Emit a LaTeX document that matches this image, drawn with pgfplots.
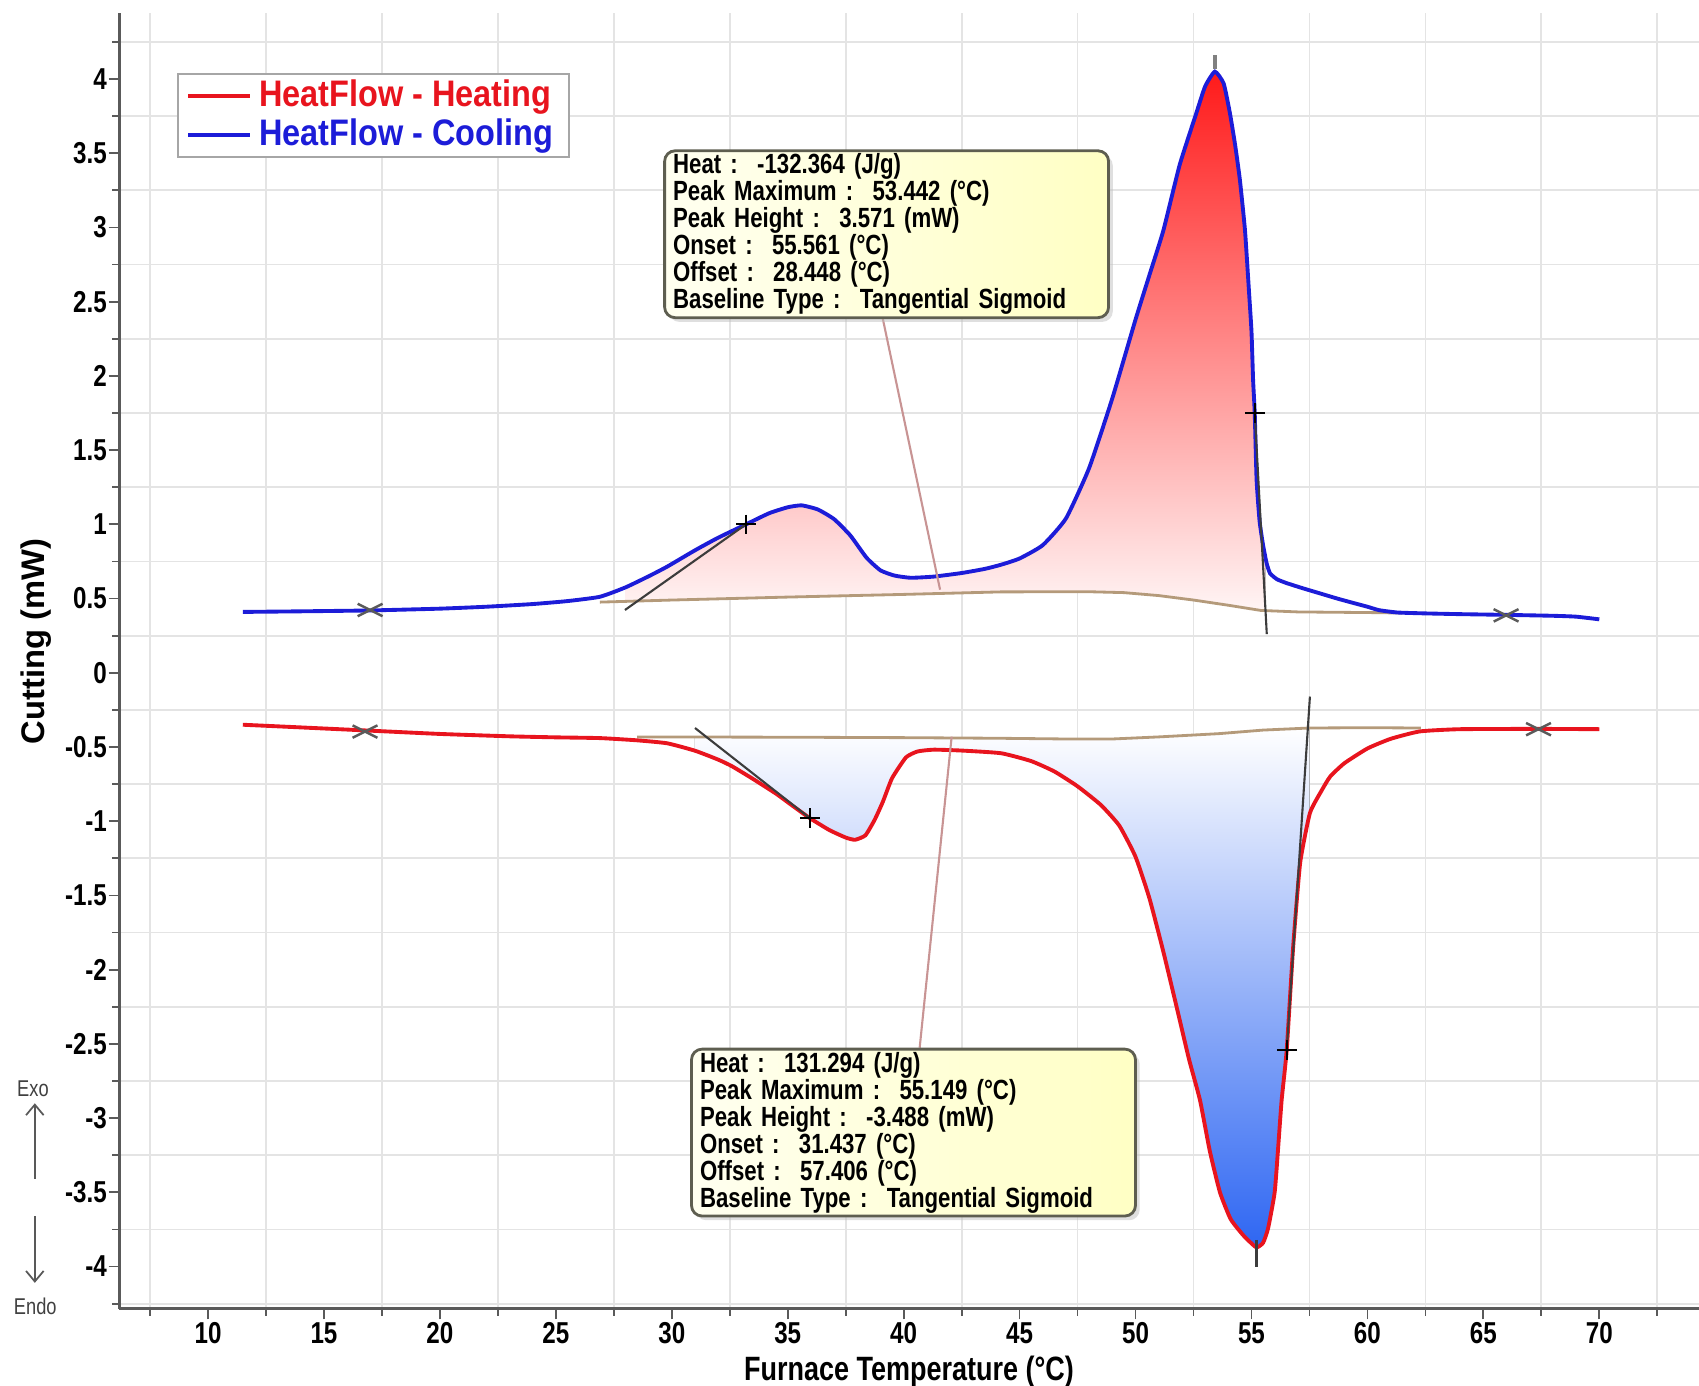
\documentclass[border=0pt]{standalone}
\usepackage{fontspec}
\setmainfont{Liberation Sans}[FakeStretch=0.8]
\newfontfamily\plainsans{Liberation Sans}
\newfontfamily\legendsans{Liberation Sans}[FakeStretch=0.88]
\usepackage{pgfplots}
\pgfplotsset{compat=1.18}
\usepgfplotslibrary{fillbetween}
\usetikzlibrary{shadows,arrows.meta}

\definecolor{heatred}{HTML}{E8141E}
\definecolor{coolblue}{HTML}{1C1CD8}
\definecolor{basetan}{HTML}{B49A7A}
\definecolor{leader}{HTML}{C89494}
\definecolor{tangray}{HTML}{3C3C3C}
\definecolor{gridc}{HTML}{E4E4E4}
\definecolor{axisc}{HTML}{5A5A5A}
\definecolor{boxedge}{HTML}{5E5E50}
\definecolor{boxl}{HTML}{FFFFF0}
\definecolor{boxr}{HTML}{FFFFC4}
\definecolor{fillred}{HTML}{FF1A1A}
\definecolor{fillblue}{HTML}{2E66F2}

\newcommand\gap{\hspace{5.5pt}}
\tikzset{annbox/.style={draw=boxedge, line width=0.8pt, rounded corners=3pt,
  left color=boxl, right color=boxr, text width=4.27cm, inner xsep=0.085cm,
  inner ysep=0.5pt, minimum height=1.669cm, align=left, anchor=north west,
  font=\bfseries\fontsize{7.9}{7.7}\selectfont,
  drop shadow={shadow xshift=1.2pt, shadow yshift=-1.2pt, fill=black!25}}}

\begin{document}
\begin{tikzpicture}
\begin{axis}[
  set layers,
  scale only axis, width=15.8cm, height=12.96cm,
  xmin=6.168, xmax=74.30, ymin=-4.285, ymax=4.445,
  clip=false,
  axis x line*=bottom, axis y line*=left,
  axis line style={axisc, line width=0.9pt},
  xtick={10,15,20,25,30,35,40,45,50,55,60,65,70},
  ytick={-4,-3.5,-3,-2.5,-2,-1.5,-1,-0.5,0,0.5,1,1.5,2,2.5,3,3.5,4},
  minor xtick={7.5,12.5,17.5,22.5,27.5,32.5,37.5,42.5,47.5,52.5,57.5,62.5,67.5,72.5},
  minor ytick={-4.25,-3.75,-3.25,-2.75,-2.25,-1.75,-1.25,-0.75,-0.25,0.25,0.75,1.25,1.75,2.25,2.75,3.25,3.75,4.25},
  xminorgrids, yminorgrids,
  minor grid style={gridc, line width=0.5pt},
  tick align=outside, major tick length=3pt, minor tick length=2pt,
  tick style={axisc, line width=0.5pt},
  /pgf/number format/assume math mode=true,
  ticklabel style={font=\bfseries\fontsize{8.6}{10}\selectfont},
  xticklabel style={yshift=2.6pt},
  yticklabel style={xshift=3pt},
  xlabel={Furnace Temperature (°C)},
  ylabel={Cutting (mW)},
  x label style={at={(axis description cs:0.5,0)}, anchor=center, yshift=-0.625cm,
    font=\bfseries\fontsize{9.6}{11}\selectfont},
  y label style={at={(axis description cs:0,0.515)}, anchor=center, yshift=0.834cm,
    font=\plainsans\bfseries\fontsize{9.3}{11}\selectfont},
  legend style={at={(axis description cs:0.0363,0.954)}, anchor=north west,
    draw=gray!70, line width=0.6pt, fill=white, inner xsep=2.5pt, inner ysep=1pt,
    font=\legendsans\bfseries\fontsize{10.5}{12}\selectfont, row sep=0.3pt,
    nodes={inner ysep=0.8pt}, cells={anchor=west}},
  legend image code/.code={\draw[#1, line width=1.1pt] (0cm,0cm) -- (0.62cm,0cm);},
]
\addlegendimage{heatred}
\addlegendentry{\textcolor{heatred}{HeatFlow - Heating}}
\addlegendimage{coolblue}
\addlegendentry{\textcolor{coolblue}{HeatFlow - Cooling}}

% baselines
\addplot[forget plot, name path=cbase, basetan, line width=0.8pt] coordinates {
(26.9,0.476) (30,0.490) (35,0.510) (40,0.528) (44.2,0.545) (48,0.546) (49.5,0.540)
(51,0.520) (52.5,0.490) (54,0.455) (55.4,0.420) (57,0.410) (60.5,0.405) (61.5,0.402)};
\addplot[forget plot, name path=hbase, basetan, line width=0.8pt] coordinates {
(28.5,-0.432) (35,-0.434) (40,-0.437) (44,-0.441) (47,-0.446) (49,-0.446) (51,-0.432)
(53.6,-0.410) (55.5,-0.386) (57.5,-0.372) (60,-0.370) (62.3,-0.372)};

% cooling curve
\addplot[forget plot, name path=cool, coolblue, line width=1.1pt, smooth, tension=0.3] coordinates {
(11.5,0.410) (14,0.414) (17,0.420) (20,0.432) (22,0.445) (24,0.463) (25.5,0.483)
(26.9,0.512) (28,0.575) (29,0.650) (29.8,0.715) (31,0.825) (32,0.910) (33.2,1.000)
(34.2,1.075) (35,1.115) (35.6,1.128) (36.3,1.100) (37,1.035) (37.7,0.925) (38.4,0.775)
(39,0.690) (39.6,0.655) (40.3,0.640) (41.3,0.648) (42.5,0.672) (43.5,0.700) (44.2,0.728)
(45,0.770) (46,0.860) (47,1.040) (48,1.380) (49,1.850) (50,2.380) (50.6,2.680)
(51.2,2.980) (51.9,3.420) (52.6,3.760) (53,3.950) (53.42,4.050) (53.8,3.970)
(54.07,3.770) (54.3,3.550) (54.5,3.320) (54.72,2.980) (54.9,2.550) (55,2.300)
(55.07,1.970) (55.14,1.750) (55.22,1.300) (55.35,1.020) (55.5,0.860) (55.65,0.740)
(55.8,0.670) (56.1,0.630) (56.5,0.605) (57.2,0.570) (57.95,0.535) (58.7,0.500)
(59.4,0.470) (60,0.445) (60.5,0.422) (61.3,0.406) (62.5,0.400) (64,0.395) (66,0.390)
(68,0.384) (69,0.378) (70,0.360)};

% heating curve
\addplot[forget plot, name path=heat, heatred, line width=1.1pt, smooth, tension=0.3] coordinates {
(11.5,-0.350) (14,-0.368) (17,-0.390) (20,-0.412) (23,-0.428) (25,-0.435) (26.9,-0.440)
(28.5,-0.455) (29.8,-0.475) (31,-0.525) (32,-0.585) (32.6,-0.630) (33.5,-0.715)
(34.5,-0.815) (35.2,-0.895) (35.96,-0.980) (36.8,-1.060) (37.5,-1.110) (37.9,-1.125)
(38.35,-1.095) (38.75,-0.990) (39.1,-0.870) (39.5,-0.710) (40.1,-0.570) (40.6,-0.530)
(41.3,-0.518) (42.5,-0.524) (44.2,-0.542) (45.5,-0.595) (46.5,-0.665) (47.5,-0.765)
(48.5,-0.890) (49.3,-1.030) (50,-1.240) (50.6,-1.520) (51.2,-1.880) (51.8,-2.270)
(52.3,-2.600) (52.78,-2.880) (53.2,-3.220) (53.64,-3.500) (54.1,-3.680) (54.65,-3.790)
(55.2,-3.870) (55.5,-3.840) (55.72,-3.740) (56,-3.500) (56.15,-3.200) (56.3,-2.880)
(56.52,-2.540) (56.8,-1.840) (57.1,-1.280) (57.52,-0.945) (58,-0.800) (58.39,-0.700)
(59,-0.610) (60,-0.510) (61,-0.445) (62.26,-0.395) (64,-0.380) (67.4,-0.378) (70,-0.380)};

% shaded peak areas
\addplot[forget plot, top color=fillred, bottom color=red!4, draw=none]
  fill between[of=cool and cbase, soft clip={domain=28:55.6}];
\addplot[forget plot, top color=white, bottom color=fillblue, draw=none]
  fill between[of=heat and hbase, soft clip={domain=31:57.5}];

% tangent construction lines
\addplot[forget plot, tangray, line width=0.6pt] coordinates {(27.98,0.423) (33.2,1.0)};
\addplot[forget plot, tangray, line width=0.6pt] coordinates {(55.14,1.75) (55.66,0.26)};
\addplot[forget plot, tangray, line width=0.6pt] coordinates {(31.0,-0.372) (35.96,-0.98)};
\addplot[forget plot, tangray, line width=0.6pt] coordinates {(56.52,-2.54) (57.52,-0.16)};

% peak markers
\addplot[forget plot, gray, line width=1.2pt] coordinates {(53.42,4.07) (53.42,4.16)};
\addplot[forget plot, tangray, line width=0.7pt] coordinates {(55.22,-3.82) (55.22,-4.0)};

% leader lines to the result boxes
\addplot[forget plot, leader, line width=0.6pt] coordinates {(39.08,2.40) (41.57,0.56)};
\addplot[forget plot, leader, line width=0.6pt] coordinates {(40.69,-2.526) (42.07,-0.43)};

% integration limits and inflection points
\addplot[forget plot, only marks, mark=x, mark size=2.5pt, mark options={xscale=2, draw=axisc, line width=0.7pt}]
  coordinates {(16.99,0.423) (65.98,0.387) (16.77,-0.396) (67.38,-0.380)};
\addplot[forget plot, only marks, mark=+, mark size=2.8pt, mark options={draw=black, line width=0.6pt}]
  coordinates {(33.2,1.0) (55.14,1.75) (35.96,-0.98) (56.52,-2.54)};

\node[annbox] at (axis cs:29.63,3.526) {Heat :\gap-132.364 (J/g)\\
Peak Maximum :\gap53.442 (°C)\\
Peak Height :\gap3.571 (mW)\\
Onset :\gap55.561 (°C)\\
Offset :\gap28.448 (°C)\\
Baseline Type :\gap Tangential Sigmoid};
\node[annbox] at (axis cs:30.79,-2.526) {Heat :\gap131.294 (J/g)\\
Peak Maximum :\gap55.149 (°C)\\
Peak Height :\gap-3.488 (mW)\\
Onset :\gap31.437 (°C)\\
Offset :\gap57.406 (°C)\\
Baseline Type :\gap Tangential Sigmoid};

% Exo / Endo indicator
\node[font=\fontsize{6.5}{7}\selectfont, text=black!75] at (axis cs:2.45,-2.80) {Exo};
\node[font=\fontsize{6.5}{7}\selectfont, text=black!75] at (axis cs:2.55,-4.27) {Endo};
\draw[black!65, line width=0.5pt, -{Straight Barb[length=3pt,width=5pt]}] (axis cs:2.53,-3.41) -- (axis cs:2.53,-2.90);
\draw[black!65, line width=0.5pt, -{Straight Barb[length=3pt,width=5pt]}] (axis cs:2.53,-3.66) -- (axis cs:2.53,-4.11);

\coordinate (SW) at (rel axis cs:0,0);
\coordinate (NE) at (rel axis cs:1,1);
\end{axis}
\pgfresetboundingbox
\path[use as bounding box] ([xshift=-1.192cm,yshift=-0.77cm]SW) rectangle ([yshift=0.13cm]NE);
\end{tikzpicture}
\end{document}
